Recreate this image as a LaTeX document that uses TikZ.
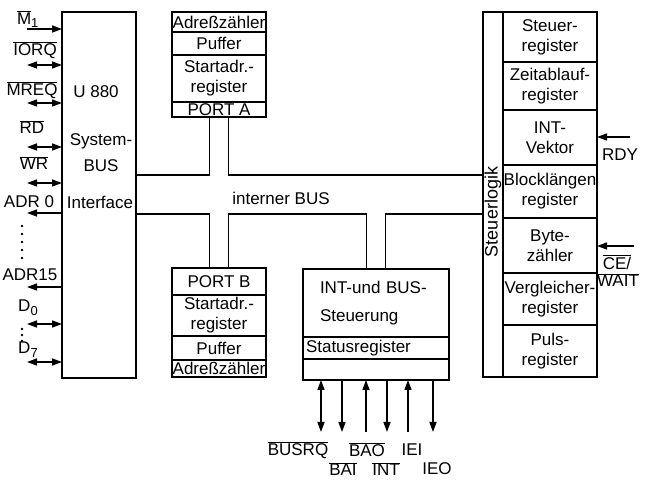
\documentclass[tikz,border=0pt]{standalone}
\usepackage{fontspec}
\setmainfont{Liberation Sans}
\usetikzlibrary{arrows.meta,positioning}

\newcommand{\ovl}[1]{$\overline{\mbox{#1}}$}
\newcommand{\lowidx}[1]{\raisebox{-4pt}{\fontsize{13}{13}\selectfont #1}}

\begin{document}
\begin{tikzpicture}[x=1pt, y=1pt,
    font=\fontsize{17}{20}\selectfont,
    outer/.style={draw, line width=2pt},
    reg/.style={draw, line width=1.3pt, minimum width=94pt, inner sep=0pt, outer sep=0pt, align=center, anchor=north},
    bus/.style={draw, line width=1.6pt},
    sig/.style={draw, line width=1.5pt},
    inarr/.style={sig, -{Triangle[length=10pt,width=7pt]}},
    outarr/.style={sig, {Triangle[length=10pt,width=7pt]}-},
    bidarr/.style={sig, {Triangle[length=10pt,width=7pt]}-{Triangle[length=10pt,width=7pt]}}
]
    \useasboundingbox (0,0) rectangle (646,482);

    % U 880 System-BUS Interface
    \node [outer, minimum width=74pt, minimum height=366pt, inner sep=0pt, outer sep=0pt, anchor=north west] (cpu) at (62,470) {};
    \node (u880) at (96,390) {U 880};
    \node [align=center, font=\fontsize{17}{26}\selectfont] (sysbus) at (101,329) {System-\\BUS};
    \node (ifc) at (100,280) {Interface};

    % PORT A
    \node [reg, minimum height=20pt, anchor=north west] (adrA) at (172,470) {Adreßzähler};
    \node [reg, minimum height=23pt, below=0pt of adrA] (pufA) {Puffer};
    \node [reg, minimum height=47pt, below=0pt of pufA] (startA) {Startadr.-\\register};
    \node [reg, minimum height=15pt, below=0pt of startA] (portA) {PORT A};
    \draw [outer] (adrA.north west) rectangle (portA.south east);

    % PORT B
    \node [reg, minimum height=27pt, anchor=north west] (portB) at (172,214) {PORT B};
    \node [reg, minimum height=41pt, below=0pt of portB] (startB) {Startadr.-\\register};
    \node [reg, minimum height=24pt, below=0pt of startB] (pufB) {Puffer};
    \node [reg, minimum height=17pt, below=0pt of pufB] (adrB) {Adreßzähler};
    \draw [outer] (portB.north west) rectangle (adrB.south east);

    % INT- und BUS-Steuerung
    \node [reg, minimum width=146pt, minimum height=68pt, anchor=north west, text width=112pt, align=left, font=\fontsize{17}{28}\selectfont] (intc) at (303,213) {INT-und BUS-\\Steuerung};
    \node [reg, minimum width=146pt, minimum height=22pt, text width=140pt, align=left, below=0pt of intc] (status) {Statusregister};
    \node [reg, minimum width=146pt, minimum height=21pt, below=0pt of status] (intbot) {};
    \draw [outer] (intc.north west) rectangle (intbot.south east);

    % Steuerlogik
    \node [draw, line width=1.3pt, minimum width=20pt, minimum height=365pt, inner sep=0pt, outer sep=0pt, anchor=north west] (logik) at (483,470) {};
    \node [rotate=90, font=\fontsize{18}{20}\selectfont] (logiktxt) at (493,270) {Steuerlogik};
    \node [reg, minimum height=50pt, anchor=north west] (streg) at (503,470) {Steuer-\\register};
    \node [reg, minimum height=48pt, below=0pt of streg] (zeit) {Zeitablauf-\\register};
    \node [reg, minimum height=55pt, below=0pt of zeit] (vekt) {INT-\\Vektor};
    \node [reg, minimum height=53pt, below=0pt of vekt] (block) {Blocklängen\\register};
    \node [reg, minimum height=55pt, below=0pt of block] (byte) {Byte-\\zähler};
    \node [reg, minimum height=52pt, below=0pt of byte] (vergl) {Vergleicher-\\register};
    \node [reg, minimum height=52pt, below=0pt of vergl] (puls) {Puls-\\register};
    \draw [outer] (logik.north west) rectangle (puls.south east);

    % interner BUS
    \coordinate (busT) at (0,307);
    \coordinate (busB) at (0,268);
    \coordinate (paL) at ([xshift=-9.5pt]portA.south);
    \coordinate (paR) at ([xshift=9.5pt]portA.south);
    \coordinate (pbL) at ([xshift=-9.5pt]portB.north);
    \coordinate (pbR) at ([xshift=9.5pt]portB.north);
    \coordinate (icL) at ([xshift=-9.5pt]intc.north);
    \coordinate (icR) at ([xshift=9.5pt]intc.north);
    \path [bus] (cpu.east |- busT) -| (paL);
    \path [bus] (paR) |- (logik.west |- busT);
    \path [bus] (cpu.east |- busB) -| (pbL);
    \path [bus] (pbR) |- (icL |- busB) -- (icL);
    \path [bus] (icR) |- (logik.west |- busB);
    \node (ibus) at (281,284) {interner BUS};

    % Signale links
    \foreach \y/\nm/\st in {453/m1/inarr, 417/iorq/bidarr, 379/mreq/bidarr, 335/rd/bidarr, 299/wr/bidarr,
                            269/adra/outarr, 195/adrb/outarr, 158/da/bidarr, 120/db/bidarr} {
        \coordinate (s\nm) at (27,\y);
        \path [\st] (s\nm) -- (s\nm -| cpu.west);
    }
    \node (lm1) at (28,463) {$\overline{\mbox{M}}_{\mbox{\fontsize{13}{13}\selectfont 1}}$};
    \node (liorq) at (35,432) {\ovl{IORQ}};
    \node (lmreq) at (32,392) {\ovl{MREQ}};
    \node (lrd) at (32,355) {\ovl{RD}};
    \node (lwr) at (34,319) {\ovl{WR}};
    \node (ladra) at (29,280) {ADR 0};
    \node (ladrb) at (30,207) {ADR15};
    \node (lda) at (28,174) {D\lowidx{0}};
    \node (ldb) at (28,132) {D\lowidx{7}};
    \foreach \y in {256,248,240,232,224} \fill (22,\y) circle (1.3pt);
    \foreach \y in {153,147,141} \fill (22,\y) circle (1.3pt);

    % Signale unten
    \foreach \x/\nm/\st in {321/busrq/bidarr, 342/bai/outarr, 366/bao/inarr, 387/int/outarr, 408/iei/inarr, 433/ieo/outarr} {
        \coordinate (b\nm) at (\x,50);
        \path [\st] (b\nm) -- (b\nm |- intbot.south);
    }
    \node (lbusrq) at (298,32) {\ovl{BUSRQ}};
    \node (lbao) at (367,32) {\ovl{BAO}};
    \node (liei) at (412,32) {IEI};
    \node (lbai) at (343,13) {\ovl{BAI}};
    \node (lint) at (386,13) {\ovl{INT}};
    \node (lieo) at (437,13) {IEO};

    % Signale rechts
    \coordinate (rrdy) at (630,345);
    \coordinate (rce) at (634,236);
    \path [inarr] (rrdy) -- (rrdy -| puls.east);
    \path [inarr] (rce) -- (rce -| puls.east);
    \node (lrdy) at (620,327) {RDY};
    \node (lce) at (617,220) {\ovl{CE/}};
    \node (lwait) at (618,202) {\ovl{WAIT}};
\end{tikzpicture}
\end{document}
